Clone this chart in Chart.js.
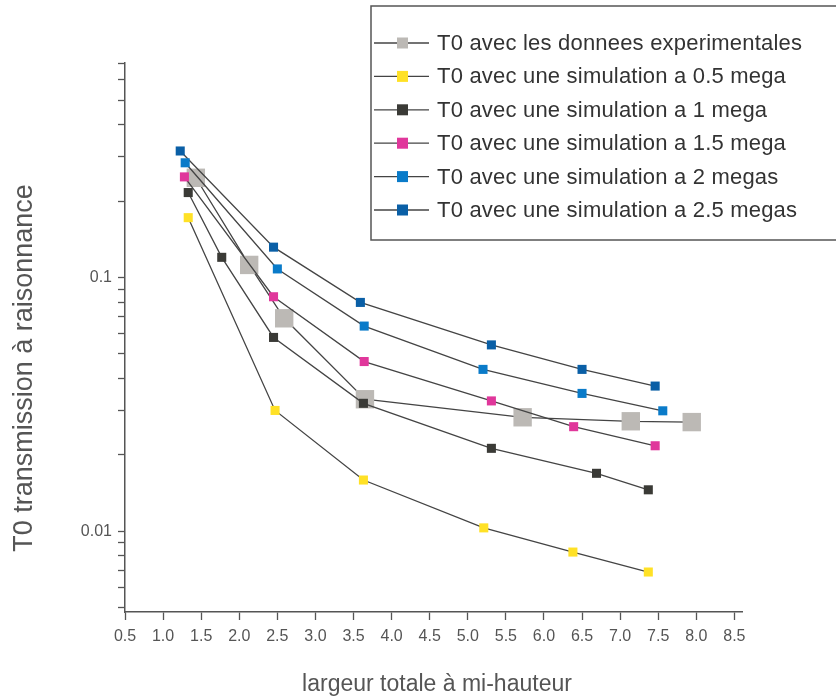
<!DOCTYPE html>
<html lang="fr">
<head>
    <meta charset="UTF-8">
    <title>T0 transmission à raisonnance</title>
    <script src="https://cdn.jsdelivr.net/npm/chart.js"></script>
    <style>
        body { margin: 0; background: #fff; }
    </style>
</head>
<body>
    <canvas id="graphe" width="836" height="698"></canvas>

    <script>
        // Données
        const labels = [
            "T0 avec les donnees experimentales",
            "T0 avec une simulation a 0.5 mega",
            "T0 avec une simulation a 1 mega",
            "T0 avec une simulation a 1.5 mega",
            "T0 avec une simulation a 2 megas",
            "T0 avec une simulation a 2.5 megas"
        ];
        const couleurs = ["#bcb9b5", "#ffe126", "#3a3a36", "#e0379b", "#0a7bc9", "#0a5fa6"];

        const xExp = [1.43, 2.13, 2.59, 3.65, 5.72, 7.14, 7.94];
        const yExp = [0.247, 0.112, 0.069, 0.0331, 0.0281, 0.0271, 0.0269];

        const x05 = [1.33, 2.47, 3.63, 5.21, 6.38, 7.37];
        const y05 = [0.172, 0.0299, 0.0159, 0.0103, 0.00827, 0.0069];

        const x1 = [1.33, 1.77, 2.45, 3.63, 5.31, 6.69, 7.37];
        const y1 = [0.216, 0.120, 0.058, 0.0319, 0.0212, 0.0169, 0.01455];

        const x15 = [1.28, 2.45, 3.64, 5.31, 6.39, 7.46];
        const y15 = [0.249, 0.0839, 0.0466, 0.0326, 0.0258, 0.0217];

        const x2 = [1.29, 2.50, 3.64, 5.20, 6.50, 7.56];
        const y2 = [0.283, 0.108, 0.0643, 0.0434, 0.0349, 0.0298];

        const x25 = [1.225, 2.45, 3.59, 5.31, 6.50, 7.46];
        const y25 = [0.315, 0.1316, 0.0797, 0.0542, 0.0434, 0.0373];

        const xTicks = [0.5, 1.0, 1.5, 2.0, 2.5, 3.0, 3.5, 4.0, 4.5, 5.0, 5.5, 6.0, 6.5, 7.0, 7.5, 8.0, 8.5];
        const yLabels = [0.01, 0.1];
        const yMinor = [0.005, 0.006, 0.007, 0.008, 0.009,
                        0.01, 0.02, 0.03, 0.04, 0.05, 0.06, 0.07, 0.08, 0.09,
                        0.1, 0.2, 0.3, 0.4, 0.5, 0.6, 0.7];

        function points(xs, ys) {
            return xs.map((x, i) => ({ x: x, y: ys[i] }));
        }

        const series = [[xExp, yExp], [x05, y05], [x1, y1], [x15, y15], [x2, y2], [x25, y25]];

        const datasets = series.map((s, i) => ({
            label: labels[i],
            data: points(s[0], s[1]),
            showLine: true,
            borderColor: '#444',
            borderWidth: 1.3,
            pointStyle: 'rect',
            pointRadius: i === 0 ? 13 : 6.4,
            pointBackgroundColor: couleurs[i],
            pointBorderWidth: 0,
            order: i === 0 ? 1 : 0
        }));

        // Légende encadrée et titres des axes
        const decor = {
            id: 'decor',
            afterDraw(chart) {
                const ctx = chart.ctx;
                ctx.save();
                ctx.strokeStyle = '#555';
                ctx.lineWidth = 1.5;
                ctx.strokeRect(371, 6, 520, 234);

                ctx.font = '22px "Liberation Sans", Arial, sans-serif';
                ctx.letterSpacing = '0.2px';
                ctx.textBaseline = 'middle';
                chart.data.datasets.forEach((ds, i) => {
                    const y = 43 + i * 33.4;
                    ctx.strokeStyle = '#444';
                    ctx.lineWidth = 1.3;
                    ctx.beginPath();
                    ctx.moveTo(374, y);
                    ctx.lineTo(429, y);
                    ctx.stroke();
                    ctx.fillStyle = ds.pointBackgroundColor;
                    ctx.fillRect(397, y - 5.5, 11, 11);
                    ctx.fillStyle = '#333';
                    ctx.fillText(ds.label, 437, y + 1);
                });

                ctx.fillStyle = '#555';
                ctx.letterSpacing = '0px';
                ctx.textAlign = 'center';
                ctx.textBaseline = 'alphabetic';
                ctx.font = '23px "Liberation Sans", Arial, sans-serif';
                ctx.fillText('largeur totale à mi-hauteur', 437, 691);

                ctx.translate(32, 368);
                ctx.rotate(-Math.PI / 2);
                ctx.font = '27px "Liberation Sans", Arial, sans-serif';
                ctx.fillText('T0 transmission à raisonnance', 0, 0);
                ctx.restore();
            }
        };

        const ctx = document.getElementById('graphe').getContext('2d');

        new Chart(ctx, {
            type: 'scatter',
            data: { datasets: datasets },
            options: {
                responsive: false,
                animation: false,
                layout: { padding: { top: 63, right: 94, left: 0, bottom: 0 } },
                plugins: {
                    legend: { display: false },
                    tooltip: { enabled: false }
                },
                scales: {
                    x: {
                        type: 'linear',
                        min: 0.5,
                        max: 8.6,
                        afterBuildTicks: axis => { axis.ticks = xTicks.map(v => ({ value: v })); },
                        afterFit: axis => { axis.height = 86; },
                        ticks: {
                            autoSkip: false,
                            maxRotation: 0,
                            padding: 7,
                            color: '#555',
                            font: { size: 16, family: '"Liberation Sans", Arial' },
                            callback: v => v.toFixed(1)
                        },
                        grid: { drawOnChartArea: false, drawTicks: true, tickLength: 8, color: '#555', tickWidth: 1.3 },
                        border: { color: '#555', width: 1.5 }
                    },
                    y: {
                        type: 'logarithmic',
                        min: 0.0048,
                        max: 0.7,
                        afterBuildTicks: axis => { axis.ticks = yMinor.map(v => ({ value: v })); },
                        afterFit: axis => { axis.width = 125; },
                        ticks: {
                            autoSkip: false,
                            padding: 6,
                            color: '#555',
                            font: { size: 16, family: '"Liberation Sans", Arial' },
                            callback: v => yLabels.includes(v) ? String(v) : ''
                        },
                        grid: { drawOnChartArea: false, drawTicks: true, tickLength: 7, color: '#555', tickWidth: 1.3 },
                        border: { color: '#555', width: 1.5 }
                    }
                }
            },
            plugins: [decor]
        });
    </script>
</body>
</html>
